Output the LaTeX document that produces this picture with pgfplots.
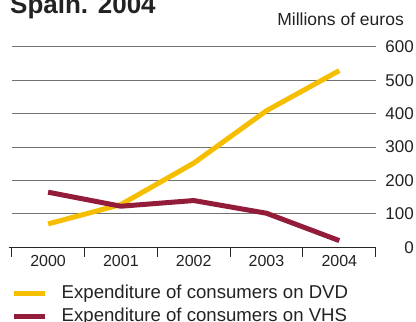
\documentclass[border=0pt]{standalone}
\usepackage{pgfplots}
\pgfplotsset{compat=1.18}
\usepackage{fontspec}
\setmainfont{Liberation Sans}
\definecolor{dvd}{HTML}{F6BE00}
\definecolor{vhs}{HTML}{931C3A}
\definecolor{txt}{HTML}{222222}
\begin{document}
\begin{tikzpicture}[x=1pt,y=1pt]
\node[anchor=base west, inner sep=0pt, font=\fontsize{26}{26}\selectfont\bfseries, text=txt] at (10,-13) {Spain. 2004};
\node[anchor=base east, inner sep=0pt, font=\fontsize{17.5}{17.5}\selectfont, text=txt] at (404,-25) {Millions of euros};
\begin{axis}[
  at={(11.7pt,-247.3pt)}, anchor=south west,
  scale only axis, width=364pt, height=200.4pt,
  xmin=-0.5, xmax=4.5, ymin=0, ymax=600,
  axis x line*=bottom, axis y line*=right,
  x axis line style={-, color=black!85, line width=0.9pt, shorten <=-3pt},
  y axis line style={draw=none},
  xtick={-0.5,0.5,1.5,2.5,3.5,4.5},
  xticklabels={2000,2001,2002,2003,2004},
  x tick label as interval,
  xtick align=outside,
  major tick length=9.5pt,
  xtick style={color=black!85, line width=0.8pt},
  ytick={0,100,...,600},
  ytick style={draw=none},
  ymajorgrids,
  grid style={color=black!55, line width=1.1pt},
  yticklabel pos=right,
  /pgf/number format/assume math mode=true,
  yticklabel style={anchor=east, inner sep=0pt, xshift=38.3pt, font=\fontsize{17}{17}\selectfont, text=txt},
  xticklabel style={font=\fontsize{16}{16}\selectfont, text=txt, yshift=5pt},
  legend style={at={(-0.0005,-0.19)}, anchor=north west, draw=none, fill=none, inner sep=0pt,
    nodes={inner sep=0pt, text height=13pt, text depth=4pt, anchor=base west},
    font=\fontsize{18.6}{18.6}\selectfont, text=txt, row sep=6.4pt, column sep=14pt},
  legend cell align=left,
  legend image code/.code={\draw[line width=5pt, #1] (0pt,5pt) -- (31pt,5pt);},
  clip=false,
]
\addplot[dvd, line width=5pt, line join=round] coordinates {(0,70) (1,128) (2,252) (3,409) (4,529)};
\addlegendentry{Expenditure of consumers on DVD}
\addplot[vhs, line width=5pt, line join=round] coordinates {(0,165) (1,123) (2,140) (3,102) (4,20)};
\addlegendentry{Expenditure of consumers on VHS}
\end{axis}
\pgfresetboundingbox
\path[use as bounding box] (0,0) rectangle (416,-322);
\end{tikzpicture}
\end{document}
